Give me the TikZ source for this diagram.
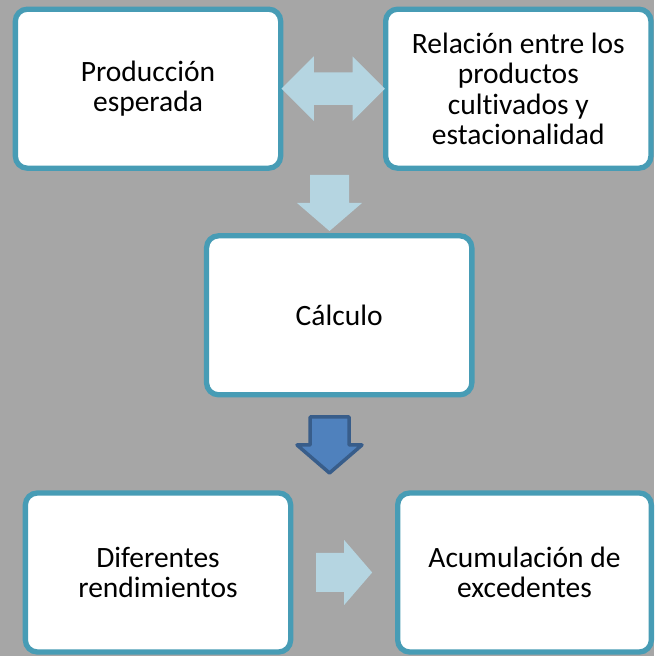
\documentclass[tikz,border=0pt]{standalone}
\usepackage{fontspec}
\setmainfont{Carlito}[Ligatures=NoCommon]
\usepackage{tikz}
\usetikzlibrary{calc}

\definecolor{fondo}{RGB}{166,166,166}
\definecolor{borde}{RGB}{71,156,181}
\definecolor{flechaclara}{RGB}{181,213,225}
\definecolor{flechaosc}{RGB}{79,129,189}
\definecolor{bordeosc}{RGB}{56,93,138}

\begin{document}
\begin{tikzpicture}[x=1pt, y=1pt,
  caja/.style={draw=borde, fill=white, line width=5.3pt, rounded corners=12pt,
    minimum width=265.3pt, minimum height=159pt, align=center,
    font=\fontsize{29.5}{30.5}\selectfont},
  clara/.style={fill=flechaclara},
  oscura/.style={fill=flechaosc, draw=bordeosc, line width=3.5pt, line join=round}]
\useasboundingbox (0,0) rectangle (654,656);
\fill[fondo] (0,0) rectangle (654,656);
% cajas
\node[caja] (prod) at (148,567.3) {Producción\\esperada};
\node[caja] (rel) at (518.3,567.3) {Relación entre los\\productos\\cultivados y\\estacionalidad};
\node[caja] (calc) at (339.2,340.7) {Cálculo};
\node[caja] (dif) at (158,83.5) {Diferentes\\rendimientos};
\node[caja, minimum width=253.7pt] (acum) at (524.5,83.5) {Acumulación de\\excedentes};
% flechas
\coordinate (d0) at ($(prod.east)!0.5!(rel.west)$);
\coordinate (d1) at (329.5,453);
\coordinate (d2) at (329.5,211);
\coordinate (d3) at ($(dif.east)!0.5!(acum.west)$);
\fill[clara] ($(d0)+(-51.7,0)$) -- ++(32.3,32.3) -- ++(0,-16) -- ++(38.8,0) -- ++(0,16)
  -- ++(32.3,-32.3) -- ++(-32.3,-32.3) -- ++(0,16) -- ++(-38.8,0) -- ++(0,-16) -- cycle;
\fill[clara] ($(d1)+(-19.5,28)$) -- ++(39,0) -- ++(0,-28) -- ++(13,0) -- ++(-32.5,-28)
  -- ++(-32.5,28) -- ++(13,0) -- cycle;
\draw[oscura] ($(d2)+(-19.5,28)$) -- ++(39,0) -- ++(0,-28) -- ++(13,0) -- ++(-32.5,-28)
  -- ++(-32.5,28) -- ++(13,0) -- cycle;
\fill[clara] ($(d3)+(-28,19.5)$) -- ++(28,0) -- ++(0,13) -- ++(28,-32.5) -- ++(-28,-32.5)
  -- ++(0,13) -- ++(-28,0) -- cycle;
\end{tikzpicture}
\end{document}
